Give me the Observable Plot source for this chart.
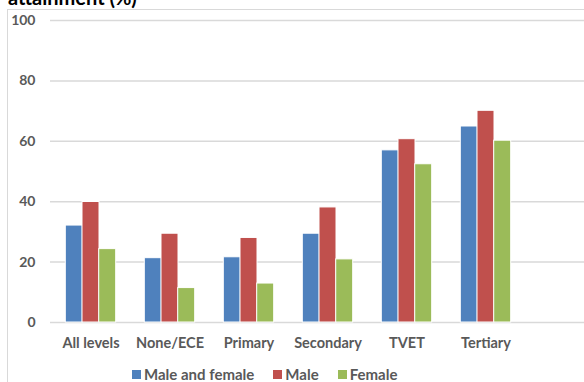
<!DOCTYPE html>
<html><head><meta charset="utf-8">
<script src="https://cdn.jsdelivr.net/npm/d3@7"></script>
<script src="https://cdn.jsdelivr.net/npm/@observablehq/plot@0.6"></script>
<style>
body{margin:0;overflow:hidden;background:#fff;font-family:Lato,"Open Sans",sans-serif}
#wrap{position:relative;width:584px;height:382px;overflow:hidden}
#border{position:absolute;left:7px;top:9px;width:620px;height:420px;border:1px solid #d9d9d9;box-sizing:border-box}
#title{position:absolute;left:8px;top:-13px;font-size:20px;font-weight:bold;color:#000;white-space:nowrap;line-height:20px}
#chart{position:absolute;left:0;top:0}
#legend{position:absolute;left:132px;top:365px;display:flex;align-items:center;font-size:15px;font-weight:bold;color:#595959;white-space:nowrap;line-height:18px}
#legend .sw{display:inline-block;width:9px;height:9px;margin-right:3px}
#legend .it{display:flex;align-items:center;margin-right:19px}
</style>
</head><body>
<div id="wrap">
<div id="border"></div>
<div id="title">attainment (%)</div>
<div id="chart"></div>
<div id="legend"></div>
</div>
<script>
const categories = ["All levels", "None/ECE", "Primary", "Secondary", "TVET", "Tertiary"];
const seriesNames = ["Male and female", "Male", "Female"];
const maleAndFemale = [32.1, 21.3, 21.6, 29.4, 57.0, 64.9];
const male = [39.9, 29.4, 28.0, 38.1, 60.7, 70.1];
const female = [24.3, 11.4, 12.9, 20.9, 52.4, 60.2];
const colors = ["#4F81BD", "#C0504D", "#9BBB59"];
const yTicks = [0, 20, 40, 60, 80, 100];

const seriesValues = [maleAndFemale, male, female];
const rows = seriesNames.map((s, i) => categories.map((c, j) => ({category: c, series: s, value: seriesValues[i][j]})));

const step = 16.7;
const marks = [
  Plot.ruleY(yTicks, {stroke: "#d9d9d9", strokeWidth: 1.5}),
  ...rows.map((data, i) => Plot.barY(data, {
    x: "category", y: "value", fill: "series",
    stroke: "white", strokeWidth: 1, dx: (i - 1) * step
  })),
  Plot.axisY(yTicks, {tickSize: 0, tickPadding: 15, fontWeight: "bold", fontSize: 14, fill: "#595959"}),
  Plot.axisX({tickSize: 0, tickPadding: 15, fontWeight: "bold", fontSize: 14.5, fill: "#595959"})
];

const chart = Plot.plot({
  width: 584,
  height: 358,
  marginLeft: 50,
  marginRight: 0,
  marginTop: 20,
  marginBottom: 36,
  style: {fontFamily: "Lato, 'Open Sans', sans-serif", background: "transparent", overflow: "visible"},
  x: {domain: categories, range: [50, 526.4], paddingInner: 0.79, paddingOuter: 0.395, label: null},
  y: {domain: [0, 100], label: null},
  color: {domain: seriesNames, range: colors},
  marks
});
document.getElementById("chart").appendChild(chart);

const legend = document.getElementById("legend");
seriesNames.forEach((s, i) => {
  const it = document.createElement("span");
  it.className = "it";
  const sw = document.createElement("span");
  sw.className = "sw";
  sw.style.background = colors[i];
  it.appendChild(sw);
  it.appendChild(document.createTextNode(s));
  legend.appendChild(it);
});
</script>
</body></html>
